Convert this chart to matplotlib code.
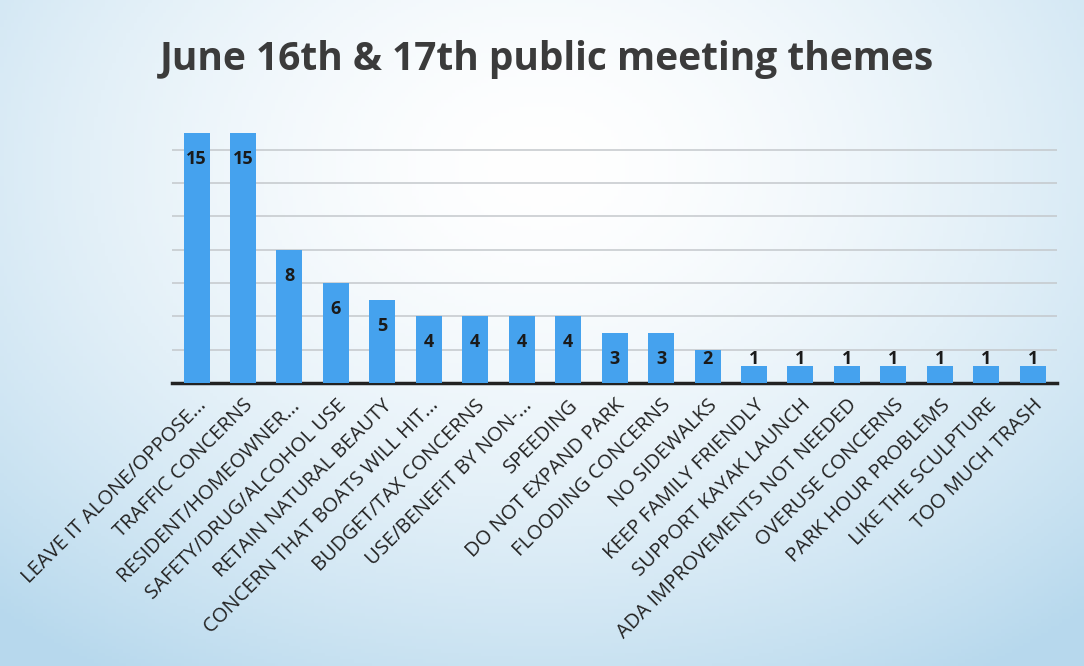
import numpy as np
import matplotlib
matplotlib.use("Agg")
import matplotlib.pyplot as plt

# data
themes = ["LEAVE IT ALONE/OPPOSE...", "TRAFFIC CONCERNS", "RESIDENT/HOMEOWNER...",
          "SAFETY/DRUG/ALCOHOL USE", "RETAIN NATURAL BEAUTY", "CONCERN THAT BOATS WILL HIT...",
          "BUDGET/TAX CONCERNS", "USE/BENEFIT BY NON-...", "SPEEDING", "DO NOT EXPAND PARK",
          "FLOODING CONCERNS", "NO SIDEWALKS", "KEEP FAMILY FRIENDLY", "SUPPORT KAYAK LAUNCH",
          "ADA IMPROVEMENTS NOT NEEDED", "OVERUSE CONCERNS", "PARK HOUR PROBLEMS",
          "LIKE THE SCULPTURE", "TOO MUCH TRASH"]
counts = [15, 15, 8, 6, 5, 4, 4, 4, 4, 3, 3, 2, 1, 1, 1, 1, 1, 1, 1]
grid_ticks = [2, 4, 6, 8, 10, 12, 14]

plt.rcParams['font.family'] = ['Open Sans', 'DejaVu Sans']

fig = plt.figure(figsize=(10.84, 6.66), dpi=100)

# pale blue washed background like the scanned slide
bg = fig.add_axes([0, 0, 1, 1], zorder=-10)
yy, xx = np.mgrid[0:1:200j, 0:1:300j]
d = np.sqrt(((xx - 0.5) / 0.75) ** 2 + ((yy - 0.25) / 0.9) ** 2)
t = np.clip(d, 0, 1) ** 1.6
white = np.array([1.0, 1.0, 1.0])
blue = np.array([0.72, 0.85, 0.93])
img = white[None, None, :] * (1 - t[..., None]) + blue[None, None, :] * t[..., None]
bg.imshow(img, aspect='auto', extent=[0, 1, 0, 1], origin='upper')
bg.set_axis_off()

ax = fig.add_axes([0.159, 0.425, 0.816, 0.40])
ax.patch.set_alpha(0)
x = np.arange(len(counts))
ax.bar(x, counts, width=0.56, color='#45A2EE', zorder=3)

for xi, v in zip(x, counts):
    ax.text(xi, max(v - 1.55, 1.45), str(v), ha='center', va='center',
            fontsize=13, fontweight='bold', color='#1a1a1a', zorder=4)

ax.set_xlim(-0.52, len(counts) - 0.48)
ax.set_ylim(0, 16)
ax.set_yticks(grid_ticks)
ax.yaxis.grid(True, color='#c4c8cc', linewidth=1.1, zorder=0)
ax.tick_params(axis='y', left=False, labelleft=False)
ax.tick_params(axis='x', length=0, pad=9)
ax.set_xticks(x)
ax.set_xticklabels(themes, rotation=45, ha='right', rotation_mode='anchor',
                   fontsize=14.5, color='#222222')
for s in ['left', 'right', 'top']:
    ax.spines[s].set_visible(False)
ax.spines['bottom'].set_linewidth(2.5)
ax.spines['bottom'].set_color('#222222')

fig.text(0.505, 0.91, "June 16th & 17th public meeting themes", ha='center', va='center',
         fontsize=28, fontweight='bold', color='#3b3b3b')

fig.savefig("out.png", dpi=100)
